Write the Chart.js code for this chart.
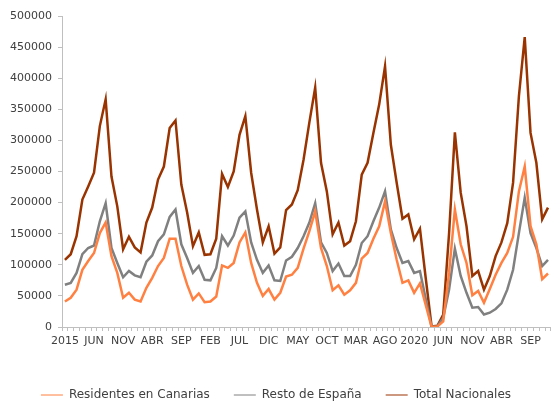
<!DOCTYPE html>
<html>
<head>
<meta charset="utf-8">
<script src="https://cdn.jsdelivr.net/npm/chart.js@4/dist/chart.umd.min.js"></script>
<style>
  html, body { margin: 0; padding: 0; background: #fff; overflow: hidden; }
  #wrap { width: 552px; height: 403px; position: relative; }
</style>
</head>
<body>
<div id="wrap"><canvas id="chart"></canvas></div>
<script>
const years = ['2015', '2016', '2017', '2018', '2019', '2020', '2021'];
const monthNames = ['ENE', 'FEB', 'MAR', 'ABR', 'MAY', 'JUN', 'JUL', 'AGO', 'SEP', 'OCT', 'NOV', 'DIC'];
const tickLabels = ['2015', 'JUN', 'NOV', 'ABR', 'SEP', 'FEB', 'JUL', 'DIC', 'MAY', 'OCT', 'MAR', 'AGO', '2020', 'JUN', 'NOV', 'ABR', 'SEP'];

const residentes = [
  41000, 47000, 60000, 92000, 106000, 119000, 151000, 168000, 114000, 87000, 47000, 55000,
  44000, 41000, 63000, 79000, 98000, 111000, 142000, 142000, 98000, 68000, 44000, 54000,
  40000, 41000, 49000, 99000, 95000, 103000, 136000, 152000, 103000, 71000, 50000, 61000,
  44000, 55000, 81000, 84000, 95000, 126000, 154000, 186000, 127000, 98000, 59000, 67000,
  52000, 59000, 71000, 110000, 119000, 142000, 162000, 202000, 151000, 108000, 71000, 75000,
  55000, 70000, 35000, 0, 1000, 9000, 87000, 189000, 133000, 103000, 51000, 58000,
  39000, 61000, 84000, 103000, 119000, 145000, 218000, 258000, 162000, 133000, 77000, 86000,
];
const restoEspana = [
  68000, 71000, 87000, 117000, 127000, 131000, 170000, 199000, 127000, 103000, 80000, 90000,
  83000, 80000, 105000, 115000, 138000, 149000, 177000, 189000, 133000, 111000, 87000, 98000,
  76000, 75000, 95000, 146000, 131000, 147000, 176000, 186000, 136000, 108000, 87000, 99000,
  75000, 74000, 107000, 113000, 127000, 146000, 168000, 199000, 136000, 119000, 90000, 102000,
  82000, 82000, 100000, 135000, 146000, 170000, 192000, 218000, 157000, 127000, 103000, 106000,
  87000, 90000, 45000, 0, 1000, 15000, 60000, 126000, 82000, 55000, 31000, 32000,
  20000, 23000, 29000, 38000, 60000, 92000, 151000, 208000, 151000, 127000, 98000, 108000,
];
const totalNacionales = [
  108000, 117000, 146000, 205000, 226000, 248000, 323000, 366000, 242000, 194000, 125000, 145000,
  128000, 120000, 168000, 192000, 237000, 258000, 320000, 332000, 229000, 184000, 130000, 152000,
  116000, 117000, 142000, 246000, 225000, 250000, 309000, 339000, 248000, 189000, 136000, 162000,
  118000, 128000, 188000, 197000, 220000, 269000, 329000, 385000, 264000, 218000, 149000, 168000,
  131000, 138000, 170000, 245000, 264000, 312000, 358000, 419000, 293000, 232000, 174000, 181000,
  141000, 158000, 78000, 1000, 2000, 20000, 150000, 313000, 216000, 162000, 82000, 90000,
  60000, 82000, 114000, 136000, 167000, 232000, 371000, 466000, 312000, 264000, 173000, 192000,
];

const categories = [];
years.forEach((y) => monthNames.forEach((m) => categories.push(m + ' ' + y)));

const axisColor = '#bfbfbf';
const textColor = '#404040';

function buildChart() {
  const ctx = document.getElementById('chart');
  new Chart(ctx, {
    type: 'line',
    data: {
      labels: categories,
      datasets: [
        { label: 'Residentes en Canarias', data: residentes, borderColor: '#ff8040', backgroundColor: '#ff8040' },
        { label: 'Resto de España', data: restoEspana, borderColor: '#808080', backgroundColor: '#808080' },
        { label: 'Total Nacionales', data: totalNacionales, borderColor: '#993300', backgroundColor: '#993300' },
      ],
    },
    options: {
      responsive: true,
      maintainAspectRatio: false,
      animation: false,
      elements: {
        line: { borderWidth: 2.5, tension: 0 },
        point: { radius: 0 },
      },
      layout: { padding: { top: 16, right: 0, bottom: -8, left: 0 } },
      plugins: {
        tooltip: { enabled: false },
        legend: {
          position: 'bottom',
          labels: {
            usePointStyle: true,
            pointStyle: 'line',
            pointStyleWidth: 22,
            padding: 24,
            color: textColor,
            font: { family: 'DejaVu Sans', size: 12 },
          },
        },
      },
      scales: {
        x: {
          offset: true,
          afterFit: (scale) => { scale.height = 38; },
          grid: { drawOnChartArea: false, offset: true, tickLength: 4, color: axisColor },
          border: { color: axisColor },
          ticks: {
            autoSkip: false,
            maxRotation: 0,
            padding: 4,
            color: textColor,
            font: { family: 'DejaVu Sans', size: 11 },
            callback: (v, i) => (i % 5 === 0 ? tickLabels[i / 5] : ''),
          },
        },
        y: {
          min: 0,
          max: 500000,
          afterFit: (scale) => { scale.width = 62; },
          grid: { drawOnChartArea: false, tickLength: 4, color: axisColor },
          border: { color: axisColor },
          ticks: {
            stepSize: 50000,
            padding: 6,
            color: textColor,
            font: { family: 'DejaVu Sans', size: 11 },
            callback: (v) => String(v),
          },
        },
      },
    },
  });
}

buildChart();
</script>
</body>
</html>
